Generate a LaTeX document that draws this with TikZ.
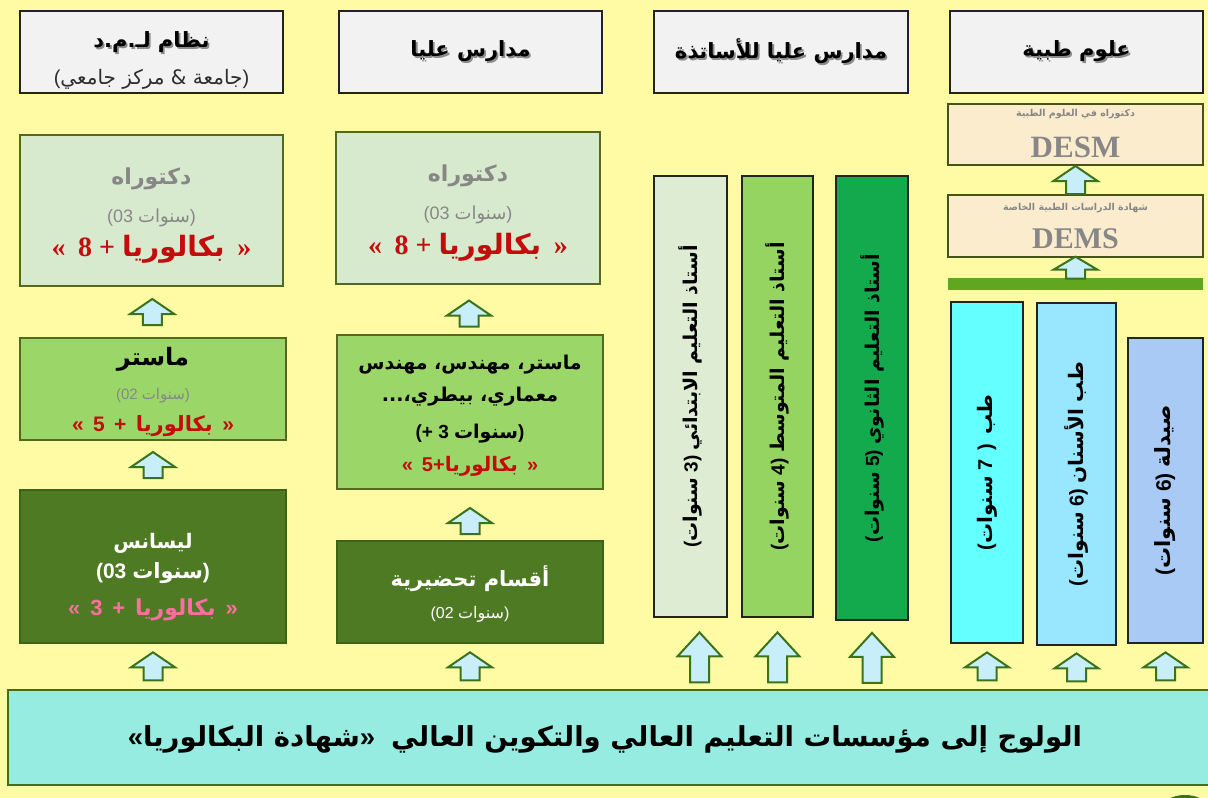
\documentclass[tikz,border=0pt]{standalone}
\usepackage{fontspec}
\setmainfont{Liberation Sans}
\newfontfamily\arabicfont[Script=Arabic]{DejaVu Sans}
\newfontfamily\timesfont{Liberation Serif}
\TeXXeTstate=1
\usetikzlibrary{calc}

% Arabic run, set right to left
\newcommand\AR[1]{{\arabicfont\beginR #1\endR}}
% text with a soft grey drop shadow
\newcommand\shadowed[1]{\makebox[0pt][l]{\hspace{1.8pt}\raisebox{-1.8pt}{\color{shadowgray}#1}}#1}
% wide word space
\newcommand\wsp{\hspace{0.45em}}
% hollow up arrow around a centre point: #1 centre, #2 half length, #3 head length
\newcommand\blockup[3]{%
  \draw[uparrow] ([shift={(0,-#2)}]#1) -- ([shift={(22,-#2+#3)}]#1)
    -- ([shift={(9.5,-#2+#3)}]#1) -- ([shift={(9.5,#2)}]#1)
    -- ([shift={(-9.5,#2)}]#1) -- ([shift={(-9.5,-#2+#3)}]#1)
    -- ([shift={(-22,-#2+#3)}]#1) -- cycle;}

\definecolor{pagebg}{RGB}{255,251,165}
\definecolor{hdrfill}{RGB}{242,242,242}
\definecolor{hdrline}{RGB}{35,35,35}
\definecolor{hdrsub}{RGB}{45,45,45}
\definecolor{shadowgray}{RGB}{140,140,140}
\definecolor{docfill}{RGB}{216,234,206}
\definecolor{boxline}{RGB}{85,105,30}
\definecolor{masterfill}{RGB}{155,214,105}
\definecolor{licfill}{RGB}{78,122,36}
\definecolor{licline}{RGB}{60,100,25}
\definecolor{tAfill}{RGB}{222,236,212}
\definecolor{tBfill}{RGB}{150,212,98}
\definecolor{tCfill}{RGB}{18,170,76}
\definecolor{medfill}{RGB}{252,236,206}
\definecolor{medbar}{RGB}{96,166,30}
\definecolor{pAfill}{RGB}{100,255,255}
\definecolor{pBfill}{RGB}{152,230,255}
\definecolor{pCfill}{RGB}{168,202,245}
\definecolor{basefill}{RGB}{150,236,224}
\definecolor{baseline}{RGB}{60,112,28}
\definecolor{arrowfill}{RGB}{200,238,250}
\definecolor{arrowline}{RGB}{58,115,28}
\definecolor{txtgray}{RGB}{135,135,135}
\definecolor{txtred}{RGB}{195,12,12}
\definecolor{txtpink}{RGB}{255,110,160}

\begin{document}
\begin{tikzpicture}[x=1pt,y=-1pt,
  hdr/.style={draw=hdrline, line width=1.5pt, fill=hdrfill, inner sep=0pt},
  stage/.style={draw=boxline, line width=1.2pt, inner sep=0pt},
  bar/.style={draw=hdrline, line width=1.5pt, inner sep=0pt},
  txt/.style={inner sep=0pt, font=\bfseries},
  vtext/.style={rotate=90, inner sep=0pt, font=\fontsize{19}{22}\selectfont\bfseries},
  uparrow/.style={draw=arrowline, fill=arrowfill, line width=2pt, line join=miter}]

\clip (0,0) rectangle (1208,798);
\fill[pagebg] (0,0) rectangle (1208,798);

% column headers
\node[hdr, minimum width=263pt, minimum height=82pt] (H1) at (151.5,52) {};
\node[hdr, minimum width=263pt, minimum height=82pt] (H2) at (470.5,52) {};
\node[hdr, minimum width=254pt, minimum height=82pt] (H3) at (781,52) {};
\node[hdr, minimum width=253pt, minimum height=82pt] (H4) at (1076.5,52) {};
\node[txt, font=\fontsize{21}{24}\selectfont\bfseries] (H1a) at ($(H1)+(0,-9)$) {\shadowed{\AR{نظام لـ.م.د}}};
\node[txt, font=\fontsize{20}{23}\selectfont, text=hdrsub] (H1b) at ($(H1)+(0,27)$) {(\AR{جامعة \& مركز جامعي})};
\node[txt, font=\fontsize{21}{24}\selectfont\bfseries] (H2a) at (H2) {\shadowed{\AR{مدارس عليا}}};
\node[txt, font=\fontsize{21}{24}\selectfont\bfseries] (H3a) at (H3) {\shadowed{\AR{مدارس عليا للأساتذة}}};
\node[txt, font=\fontsize{21}{24}\selectfont\bfseries] (H4a) at (H4) {\shadowed{\AR{علوم طبية}}};

% L.M.D. column
\node[stage, fill=docfill, minimum width=263pt, minimum height=151pt] (D1) at (151.5,210.5) {};
\node[txt, text=txtgray, font=\fontsize{22}{26}\selectfont\bfseries] (D1a) at ($(D1)+(0,-32)$) {\AR{دكتوراه}};
\node[txt, text=txtgray, font=\fontsize{18}{21}\selectfont] (D1b) at ($(D1)+(0,7)$) {(03 \AR{سنوات})};
\node[txt, text=txtred, font=\fontsize{28}{32}\selectfont\bfseries\timesfont] (D1c) at ($(D1)+(0,39)$) {«\wsp 8 + \AR{بكالوريا}\wsp»};

\node[stage, fill=masterfill, minimum width=266pt, minimum height=102pt] (M1) at (153,389) {};
\node[txt, font=\fontsize{24}{28}\selectfont\bfseries] (M1a) at ($(M1)+(0,-30)$) {\AR{ماستر}};
\node[txt, text=txtgray, font=\fontsize{15}{18}\selectfont] (M1b) at ($(M1)+(0,7)$) {(02 \AR{سنوات})};
\node[txt, text=txtred, font=\fontsize{21}{24}\selectfont\bfseries] (M1c) at ($(M1)+(0,37)$) {«\wsp 5\wsp +\wsp\AR{بكالوريا}\wsp»};

\node[stage, draw=licline, fill=licfill, minimum width=266pt, minimum height=153pt] (L1) at (153,566.5) {};
\node[txt, text=white, font=\fontsize{20}{24}\selectfont\bfseries] (L1a) at ($(L1)+(0,-23)$) {\AR{ليسانس}};
\node[txt, text=white, font=\fontsize{21}{24}\selectfont\bfseries] (L1b) at ($(L1)+(0,7)$) {(03 \AR{سنوات})};
\node[txt, text=txtpink, font=\fontsize{22}{26}\selectfont\bfseries] (L1c) at ($(L1)+(0,43)$) {«\wsp 3\wsp +\wsp\AR{بكالوريا}\wsp»};

% higher schools column
\node[stage, fill=docfill, minimum width=264pt, minimum height=152pt] (D2) at (468,208) {};
\node[txt, text=txtgray, font=\fontsize{22}{26}\selectfont\bfseries] (D2a) at ($(D2)+(0,-32)$) {\AR{دكتوراه}};
\node[txt, text=txtgray, font=\fontsize{18}{21}\selectfont] (D2b) at ($(D2)+(0,7)$) {(03 \AR{سنوات})};
\node[txt, text=txtred, font=\fontsize{28}{32}\selectfont\bfseries\timesfont] (D2c) at ($(D2)+(0,39)$) {«\wsp 8 + \AR{بكالوريا}\wsp»};

\node[stage, fill=masterfill, minimum width=266pt, minimum height=154pt] (M2) at (470,412) {};
\node[txt, font=\fontsize{19}{22}\selectfont\bfseries] (M2a) at ($(M2)+(0,-47)$) {\AR{ماستر، مهندس، مهندس}};
\node[txt, font=\fontsize{19}{22}\selectfont\bfseries] (M2b) at ($(M2)+(0,-15)$) {\AR{معماري، بيطري،...}};
\node[txt, font=\fontsize{19}{22}\selectfont\bfseries] (M2c) at ($(M2)+(0,22)$) {(+ 3 \AR{سنوات})};
\node[txt, text=txtred, font=\fontsize{20}{24}\selectfont\bfseries] (M2d) at ($(M2)+(0,54)$) {«\wsp 5+\AR{بكالوريا}\wsp»};

\node[stage, draw=licline, fill=licfill, minimum width=266pt, minimum height=102pt] (PR) at (470,592) {};
\node[txt, text=white, font=\fontsize{21}{24}\selectfont\bfseries] (PRa) at ($(PR)+(0,-13)$) {\AR{أقسام تحضيرية}};
\node[txt, text=white, font=\fontsize{16}{19}\selectfont] (PRb) at ($(PR)+(0,22)$) {(02 \AR{سنوات})};

% teacher training schools
\node[bar, fill=tAfill, minimum width=73pt, minimum height=441pt] (T1) at (690.5,396.5) {};
\node[bar, fill=tBfill, minimum width=71pt, minimum height=441pt] (T2) at (777.5,396.5) {};
\node[bar, fill=tCfill, minimum width=72pt, minimum height=444pt] (T3) at (872,398) {};
\node[vtext] (T1t) at (T1) {(\AR{سنوات} 3) \AR{أستاذ التعليم الابتدائي}};
\node[vtext] (T2t) at (T2) {(\AR{سنوات} 4) \AR{أستاذ التعليم المتوسط}};
\node[vtext] (T3t) at (T3) {(\AR{سنوات} 5) \AR{أستاذ التعليم الثانوي}};

% medical sciences
\node[stage, draw=boxline!80!black, fill=medfill, minimum width=255pt, minimum height=61pt] (DESM) at (1075.5,134.5) {};
\node[txt, text=txtgray, font=\fontsize{9.5}{11}\selectfont\bfseries] (DESMa) at ($(DESM)+(0,-20)$) {\AR{دكتوراه في العلوم الطبية}};
\node[txt, text=txtgray, font=\fontsize{31}{34}\selectfont\bfseries\timesfont] (DESMb) at ($(DESM)+(0,13)$) {DESM};
\node[stage, draw=boxline!80!black, fill=medfill, minimum width=255pt, minimum height=62pt] (DEMS) at (1075.5,226) {};
\node[txt, text=txtgray, font=\fontsize{9.5}{11}\selectfont\bfseries] (DEMSa) at ($(DEMS)+(0,-18)$) {\AR{شهادة الدراسات الطبية الخاصة}};
\node[txt, text=txtgray, font=\fontsize{30}{34}\selectfont\bfseries\timesfont] (DEMSb) at ($(DEMS)+(0,13)$) {DEMS};
\node[fill=medbar, minimum width=255pt, minimum height=12pt, inner sep=0pt] (GB) at (1075.5,284) {};
\node[bar, fill=pAfill, minimum width=72pt, minimum height=341pt] (P1) at (987,472.5) {};
\node[bar, fill=pBfill, minimum width=79pt, minimum height=342pt] (P2) at (1076.5,474) {};
\node[bar, fill=pCfill, minimum width=75pt, minimum height=305pt] (P3) at (1165.5,490.5) {};
\node[vtext, font=\fontsize{20}{24}\selectfont\bfseries] (P1t) at (P1) {(\AR{سنوات} 7\wsp )\wsp\AR{طب}};
\node[vtext, font=\fontsize{20}{24}\selectfont\bfseries] (P2t) at (P2) {(\AR{سنوات} 6) \AR{طب الأسنان}};
\node[vtext, font=\fontsize{21}{24}\selectfont\bfseries] (P3t) at (P3) {(\AR{سنوات} 6) \AR{صيدلة}};

% entry band
\node[draw=baseline, line width=2pt, fill=basefill, minimum width=1210pt, minimum height=95pt,
  inner sep=0pt] (B) at (613,737.5) {};
\node[txt, font=\fontsize{27.5}{32}\selectfont\bfseries] (Bt) at (605,739)
  {«\AR{شهادة البكالوريا}»\hspace{16pt}\AR{الولوج إلى مؤسسات التعليم العالي والتكوين العالي}};

% arrows between stages
\coordinate (a1) at ($(D1.south)!0.5!(M1.north)$);
\coordinate (a2) at ($(M1.south)!0.5!(L1.north)$);
\coordinate (a3) at ($(L1.south)!0.5!(L1.south|-B.north)$);
\coordinate (b1) at ($(D2.south)!0.5!(M2.north)+(0,4)$);
\coordinate (b2) at ($(M2.south)!0.5!(PR.north)+(0,6)$);
\coordinate (b3) at ($(PR.south)!0.5!(PR.south|-B.north)$);
\coordinate (c1) at ($(T1.south)!0.5!(T1.south|-B.north)+(9,4)$);
\coordinate (c2) at ($(T2.south)!0.5!(T2.south|-B.north)+(0,4)$);
\coordinate (c3) at ($(T3.south)!0.5!(T3.south|-B.north)+(0,3)$);
\coordinate (m1) at ($(DEMS.north)!0.5!(DESM.south)$);
\coordinate (m2) at ($(GB.north)!0.5!(DEMS.south)$);
\coordinate (p1) at ($(P1.south)!0.5!(P1.south|-B.north)$);
\coordinate (p2) at ($(P2.south)!0.5!(P2.south|-B.north)$);
\coordinate (p3) at ($(P3.south)!0.5!(P3.south|-B.north)$);

\blockup{a1}{13}{15}
\blockup{a2}{13}{15}
\blockup{a3}{14}{15}
\blockup{b1}{13}{15}
\blockup{b2}{13}{15}
\blockup{b3}{14}{15}
\blockup{c1}{25}{24}
\blockup{c2}{25}{24}
\blockup{c3}{25}{24}
\blockup{m1}{14}{15}
\blockup{m2}{11}{13}
\blockup{p1}{14}{15}
\blockup{p2}{14}{15}
\blockup{p3}{14}{15}

% corner mark along the lower edge
\fill[arrowline] (1185,807) ellipse (22 and 12);
\end{tikzpicture}
\end{document}
